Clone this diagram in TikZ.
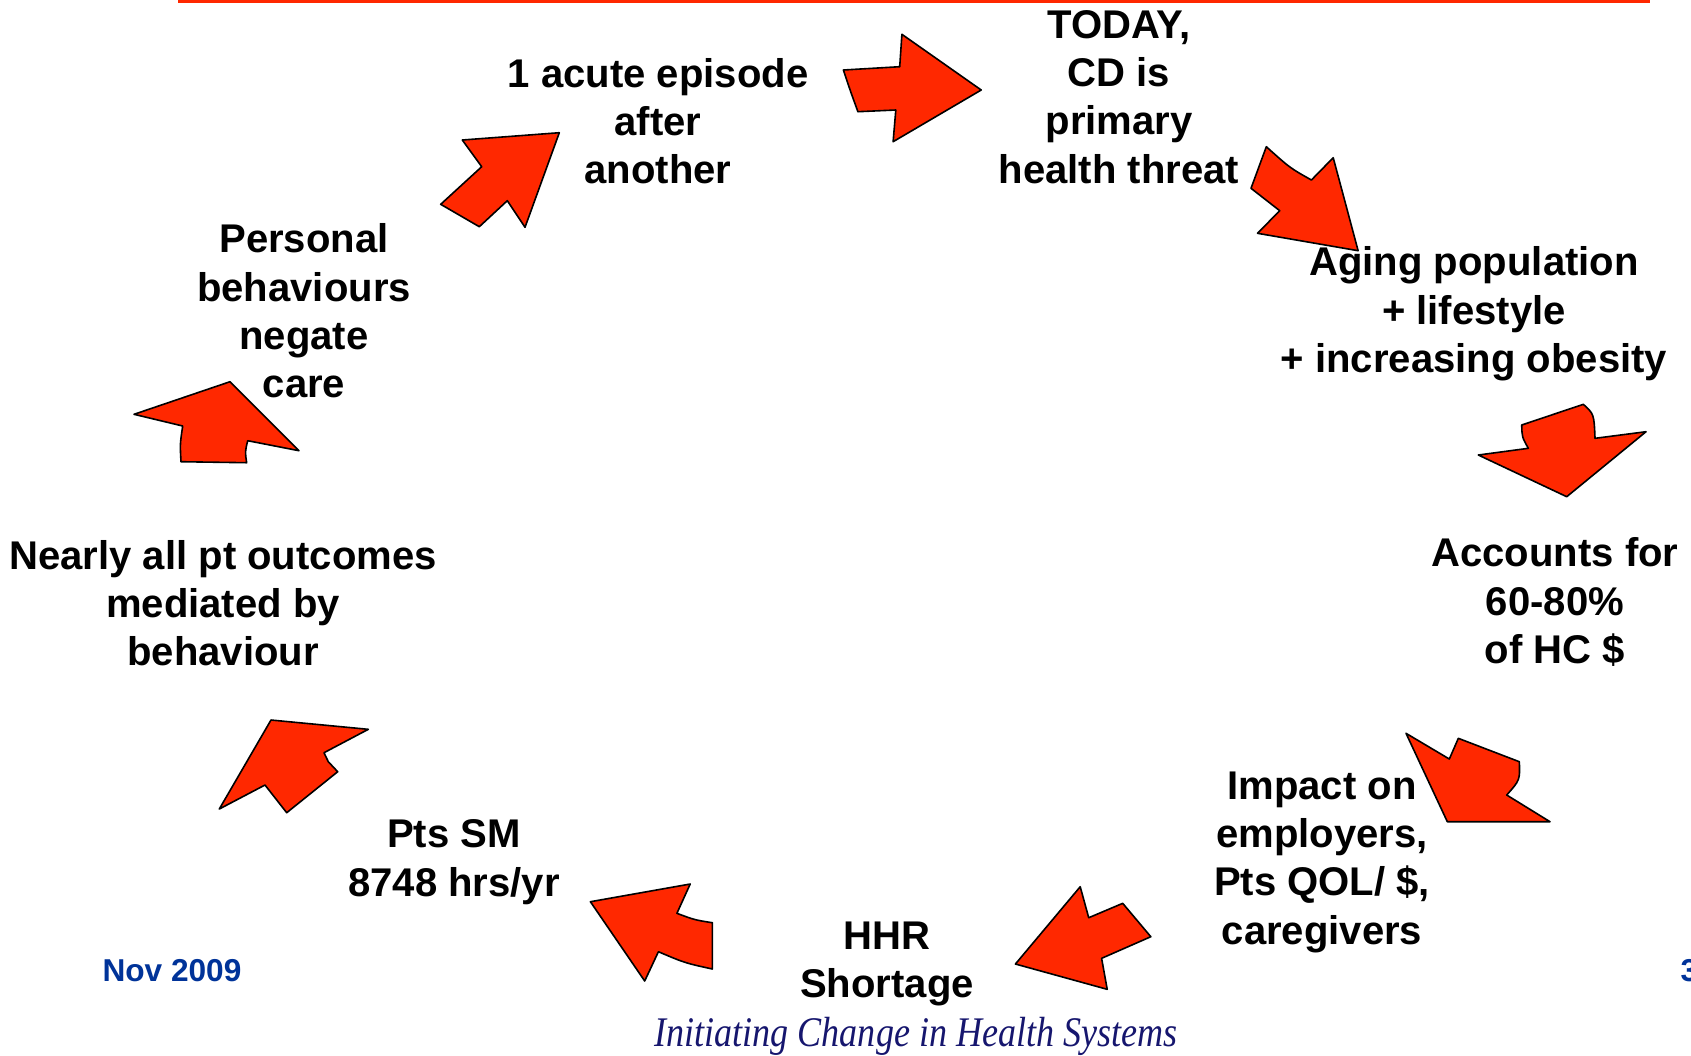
\documentclass[tikz,border=0pt]{standalone}
\usepackage{fontspec}
\setmainfont{Liberation Sans}
\newfontfamily\sloganfont{Liberation Serif}
\definecolor{arrowred}{RGB}{255,40,0}
\definecolor{dateblue}{RGB}{0,51,153}
\definecolor{slogannavy}{RGB}{22,22,110}
\begin{document}
\begin{tikzpicture}[x=0.1mm, y=-0.1mm, line join=round, line cap=round,
	bent/.style={fill=arrowred, draw=black, line width=0.16mm},
	lbl/.style={align=center, inner sep=0pt, font=\fontsize{11.4}{13.75}\selectfont\bfseries}]
		\useasboundingbox (0,0) rectangle (1691,1055);
		\path (178,1.5) coordinate (L)
		(1650,1.5) coordinate (R)
		;
		\draw[arrowred, line width=0.3mm, line cap=butt] (L)--(R);
		\node[lbl] (acute) at (658,121) {1 acute episode\\after\\another};
		\node[lbl] (today) at (1119,97) {TODAY,\\CD is\\primary\\health threat};
		\node[lbl] (aging) at (1474,314) {Aging population\\+ lifestyle\\+ increasing obesity};
		\node[lbl] (accounts) at (1555,602) {Accounts for\\60-80\%\\of HC \$};
		\node[lbl] (impact) at (1322,862) {Impact on\\employers,\\Pts QOL/ \$,\\caregivers};
		\node[lbl] (hhr) at (887,964) {HHR\\Shortage};
		\node[lbl] (ptssm) at (454,862) {Pts SM\\8748 hrs/yr};
		\node[lbl] (nearly) at (223,603) {Nearly all pt outcomes\\mediated by\\behaviour};
		\node[lbl] (personal) at (304,311) {Personal\\behaviours\\negate\\care};
		\node[font=\fontsize{9}{10}\selectfont\bfseries, text=dateblue, inner sep=0pt] (date) at (172,971) {Nov 2009};
		\node[font=\fontsize{9}{10}\selectfont\bfseries, text=dateblue, inner sep=0pt, anchor=west] (page) at (1680,971) {3};
		\node[font=\fontsize{12}{14}\sloganfont\itshape, text=slogannavy, inner sep=0pt, anchor=base] (slogan) at (916,1046)
		{\scalebox{0.855}[1]{Initiating Change in Health Systems}};
		\draw[bent] (440.7,204.3) -- (481.7,166.7) -- (462.3,140) -- (559.3,132.7)
		-- (525,227.3) -- (507.3,200.7) -- (479.3,226.7) -- cycle;
		\draw[bent] (843.4,70) -- (899.7,66.7) -- (901.9,34.3) -- (981.2,90)
		-- (893.1,141.7) -- (895.8,110) -- (857.9,111.7) .. controls (850,90) .. cycle;
		\draw[bent] (1266.3,146.7) .. controls (1290,168) .. (1311.4,180) -- (1333.2,157.7) -- (1358.1,250.7)
		-- (1257.5,233.3) -- (1279.7,210.7) -- (1251,188.3) -- cycle;
		\draw[bent] (1521.7,425) -- (1583.3,404.3) .. controls (1594,414) .. (1595,438.3) -- (1646,431.7)
		-- (1566.7,496.7) -- (1478.3,455) -- (1528.3,448.3) .. controls (1522,437) .. cycle;
		\draw[bent] (1406,733.3) -- (1449.3,759) -- (1458.3,738.3) -- (1519.3,761.7)
		.. controls (1520,780) .. (1506.7,795) -- (1550,821.7) -- (1447.3,821.7) -- cycle;
		\draw[bent] (1080.2,886.7) -- (1088.7,917.7) -- (1122.7,903.3) -- (1150.8,936.7)
		-- (1101.6,958.3) -- (1107.2,989.3) -- (1015.4,964) -- cycle;
		\draw[bent] (690.2,884) -- (676.9,913.3) .. controls (695,920) .. (712.4,922.7) -- (712.4,969)
		.. controls (685,963) .. (658.4,951.7) -- (644.7,981) -- (590.4,901.7) -- cycle;
		\draw[bent] (271,720) -- (368.3,729.3) -- (324,752.7) .. controls (326,758) .. (328.3,761.7)
		-- (337.7,771.7) -- (286.7,812.7) -- (265,785) -- (219.3,809) -- cycle;
		\draw[bent] (230,381.7) -- (299,450.7) -- (247.7,440.7) .. controls (245,452) .. (246.7,462.7)
		-- (181,461.7) .. controls (180,444) .. (182.7,426) -- (134,414.3) -- cycle;
\end{tikzpicture}
\end{document}
